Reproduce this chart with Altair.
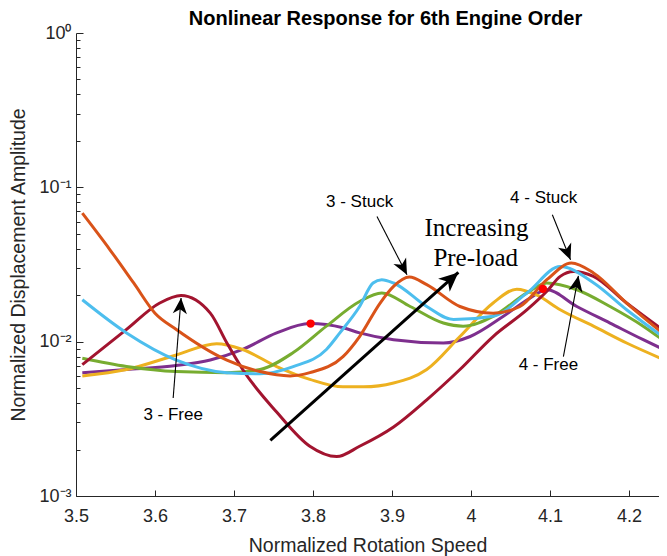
import math
import altair as alt
import pandas as pd

# ---------------- data ----------------
x_ticks = [3.5, 3.6, 3.7, 3.8, 3.9, 4.0, 4.1, 4.2]
y_major = [0.001, 0.01, 0.1, 1.0]
y_minor = [round(m * d, 6) for d in (0.001, 0.01, 0.1) for m in range(2, 10)]

purple_x = [3.508, 3.564, 3.627, 3.670, 3.711, 3.754, 3.796, 3.838, 3.859, 3.902,
            3.965, 3.999, 4.041, 4.075, 4.096, 4.134, 4.176, 4.218, 4.248]
purple_y = [0.0063, 0.0066, 0.0070, 0.0076, 0.0089, 0.0114, 0.0131, 0.0123, 0.0114, 0.0103,
            0.0098, 0.0108, 0.0146, 0.0192, 0.0217, 0.0169, 0.0132, 0.0103, 0.0087]

yellow_x = [3.508, 3.564, 3.627, 3.678, 3.711, 3.754, 3.796, 3.838, 3.864, 3.902,
            3.944, 3.986, 4.028, 4.058, 4.083, 4.113, 4.155, 4.197, 4.248]
yellow_y = [0.0060, 0.0066, 0.0082, 0.0097, 0.0089, 0.0069, 0.0057, 0.0051, 0.0051, 0.0054,
            0.0066, 0.0108, 0.0178, 0.0219, 0.0201, 0.0161, 0.0126, 0.0098, 0.0075]

green_x = [3.508, 3.564, 3.627, 3.691, 3.733, 3.775, 3.817, 3.859, 3.887, 3.923,
           3.965, 3.990, 4.028, 4.071, 4.096, 4.134, 4.176, 4.218, 4.248]
green_y = [0.0078, 0.0069, 0.0064, 0.0063, 0.0066, 0.0085, 0.0126, 0.0182, 0.0207, 0.0169,
           0.0132, 0.0126, 0.0146, 0.0207, 0.0240, 0.0217, 0.0169, 0.0126, 0.0098]

maroon_x = [3.508, 3.564, 3.606, 3.633, 3.670, 3.691, 3.711, 3.754, 3.796, 3.830, 3.859,
            3.902, 3.944, 3.986, 4.028, 4.071, 4.096, 4.113, 4.130, 4.155, 4.197, 4.248]
maroon_y = [0.0071, 0.0120, 0.0178, 0.0199, 0.0153, 0.0098, 0.0066, 0.0035, 0.0021, 0.0018, 0.0021,
            0.0028, 0.0042, 0.0066, 0.0108, 0.0161, 0.0212, 0.0265, 0.0285, 0.0265, 0.0178, 0.0114]

blue_x = [3.508, 3.564, 3.627, 3.691, 3.733, 3.775, 3.817, 3.834, 3.859, 3.876,
          3.887, 3.902, 3.944, 3.978, 4.028, 4.071, 4.113, 4.155, 4.197, 4.248]
blue_y = [0.0187, 0.0114, 0.0076, 0.0063, 0.0062, 0.0069, 0.0089, 0.0114, 0.0169, 0.0240,
          0.0252, 0.0240, 0.0169, 0.0139, 0.0146, 0.0207, 0.0307, 0.0241, 0.0161, 0.0103]

orange_x = [3.508, 3.543, 3.573, 3.600, 3.627, 3.691, 3.733, 3.771, 3.796, 3.838, 3.859, 3.885,
            3.902, 3.922, 3.944, 3.986, 4.028, 4.062, 4.096, 4.127, 4.155, 4.197, 4.248]
orange_y = [0.0680, 0.0394, 0.0240, 0.0153, 0.0120, 0.0076, 0.0064, 0.0060, 0.0063, 0.0080, 0.0108, 0.0178,
            0.0228, 0.0262, 0.0234, 0.0169, 0.0153, 0.0169, 0.0252, 0.0323, 0.0279, 0.0178, 0.0108]

series = [
    ("purple", "#7E2F8E", purple_x, purple_y),
    ("yellow", "#EDB120", yellow_x, yellow_y),
    ("green", "#77AC30", green_x, green_y),
    ("maroon", "#A2142F", maroon_x, maroon_y),
    ("blue", "#4DBEEE", blue_x, blue_y),
    ("orange", "#D95319", orange_x, orange_y),
]

dot_x = [3.797, 4.091]
dot_y = [0.0131, 0.0220]

label_text = ["3 - Free", "3 - Stuck", "4 - Stuck", "4 - Free"]
label_x = [3.623, 3.859, 4.092, 4.098]
label_y = [0.00310, 0.0751, 0.0794, 0.00652]

note_text = ["Increasing", "Pre-load"]
note_x = [4.007, 4.006]
note_y = [0.0481, 0.0307]

arrow_x_start = [3.746, 3.623, 3.881, 4.103, 4.117]
arrow_y_start = [0.00229, 0.00432, 0.0647, 0.0664, 0.0080]
arrow_x_tip = [3.984, 3.633, 3.919, 4.126, 4.136]
arrow_y_tip = [0.0281, 0.0192, 0.0271, 0.0339, 0.0267]
arrow_bold = [True, False, False, False, False]

# ---------------- styles ----------------
W, H = 583, 463
X_DOM = [3.5, 4.238]
Y_DOM = [0.001, 1.0]
SANS = "Liberation Sans"
SERIF = "Liberation Serif"
INK = "#262626"

xs = alt.Scale(domain=X_DOM, nice=False, zero=False)
ys = alt.Scale(type="log", domain=Y_DOM, nice=False)

main_x_axis = alt.Axis(orient="bottom", values=x_ticks, format=".1~f", labelFlush=False,
                       labelFont=SANS, labelFontSize=18, labelColor=INK, labelPadding=11,
                       ticks=False, tickSize=0, domainColor=INK, domainWidth=1, grid=False,
                       title="Normalized Rotation Speed", titleFont=SANS, titleFontSize=19.5,
                       titleFontWeight="normal", titleColor=INK, titlePadding=11)
main_y_axis = alt.Axis(orient="left", values=y_major,
                       labelExpr="datum.value >= 0.5 ? '10⁰' : datum.value >= 0.05 ? '10⁻¹' : datum.value >= 0.005 ? '10⁻²' : '10⁻³'",
                       labelFlush=False, labelOverlap=False,
                       labelFont=SANS, labelFontSize=18, labelColor=INK, labelPadding=5,
                       ticks=False, tickSize=0, domainColor=INK, domainWidth=1, grid=False,
                       title="Normalized Displacement Amplitude", titleFont=SANS, titleFontSize=19.5,
                       titleFontWeight="normal", titleColor=INK, titlePadding=10)
tick_x_axis = alt.Axis(orient="bottom", values=x_ticks, labels=False, domain=False, grid=False,
                       ticks=True, tickSize=6, tickColor=INK, tickWidth=1, offset=-6, title=None)
tick_y_axis = alt.Axis(orient="left", values=y_major, labels=False, domain=False, grid=False,
                       ticks=True, tickSize=7, tickColor=INK, tickWidth=1, offset=-7, title=None)
minor_y_axis = alt.Axis(orient="left", values=y_minor, labels=False, domain=False, grid=False,
                        ticks=True, tickSize=4, tickColor=INK, tickWidth=1, offset=-4, title=None)

layers = []
for i, (name, color, sx, sy) in enumerate(series):
    df = pd.DataFrame({"x": sx, "y": sy, "series": name})
    ax_x = main_x_axis if i == 0 else None
    ax_y = main_y_axis if i == 0 else None
    layers.append(
        alt.Chart(df).mark_line(color=color, strokeWidth=3, interpolate="monotone", clip=True)
        .encode(x=alt.X("x:Q", scale=xs, axis=ax_x), y=alt.Y("y:Q", scale=ys, axis=ax_y))
    )

# arrows
kx = W / (X_DOM[1] - X_DOM[0])
ky = H / (math.log10(Y_DOM[1]) - math.log10(Y_DOM[0]))
angles = []
for xa, ya, xb, yb in zip(arrow_x_start, arrow_y_start, arrow_x_tip, arrow_y_tip):
    dxp = (xb - xa) * kx
    dyp = -(math.log10(yb) - math.log10(ya)) * ky
    angles.append(math.degrees(math.atan2(dxp, -dyp)) % 360)

arrow_df = pd.DataFrame({
    "xs": arrow_x_start, "ys": arrow_y_start, "xt": arrow_x_tip, "yt": arrow_y_tip,
    "w": [3 if b else 1.1 for b in arrow_bold],
    "sz": [1500 if b else 1000 for b in arrow_bold],
    "ang": angles,
})
layers.append(
    alt.Chart(arrow_df).mark_rule(color="black")
    .encode(x=alt.X("xs:Q", scale=xs, axis=None), y=alt.Y("ys:Q", scale=ys, axis=None),
            x2="xt:Q", y2="yt:Q", strokeWidth=alt.StrokeWidth("w:Q", scale=None))
)
layers.append(
    alt.Chart(arrow_df).mark_point(shape="M0,0L-0.45,1L0,0.72L0.45,1Z", filled=True,
                                   color="black", opacity=1, strokeWidth=0)
    .encode(x=alt.X("xt:Q", scale=xs, axis=None), y=alt.Y("yt:Q", scale=ys, axis=None),
            angle=alt.Angle("ang:Q", scale=None), size=alt.Size("sz:Q", scale=None))
)

# red points (carry the inward major ticks)
dots_df = pd.DataFrame({"x": dot_x, "y": dot_y})
layers.append(
    alt.Chart(dots_df).mark_point(shape="circle", filled=True, color="#FF0000", opacity=1, size=70)
    .encode(x=alt.X("x:Q", scale=xs, axis=tick_x_axis), y=alt.Y("y:Q", scale=ys, axis=tick_y_axis))
)

# annotations (carry minor ticks)
lab_df = pd.DataFrame({"x": label_x, "y": label_y, "t": label_text})
layers.append(
    alt.Chart(lab_df).mark_text(font=SANS, fontSize=17, color="black", align="center", baseline="alphabetic")
    .encode(x=alt.X("x:Q", scale=xs, axis=None), y=alt.Y("y:Q", scale=ys, axis=minor_y_axis), text="t:N")
)
note_df = pd.DataFrame({"x": note_x, "y": note_y, "t": note_text})
layers.append(
    alt.Chart(note_df).mark_text(font=SERIF, fontSize=25, color="black", align="center", baseline="alphabetic")
    .encode(x=alt.X("x:Q", scale=xs, axis=None), y=alt.Y("y:Q", scale=ys, axis=None), text="t:N")
)

chart = (
    alt.layer(*layers)
    .resolve_axis(x="independent", y="independent")
    .properties(
        width=W, height=H,
        title=alt.TitleParams(text="Nonlinear Response for 6th Engine Order", font=SANS, fontSize=20,
                              fontWeight="bold", color="black", anchor="middle", offset=0, dx=18, dy=5),
        autosize=alt.AutoSizeParams(type="none"),
        padding={"left": 68, "top": 25, "right": 0, "bottom": 60},
    )
    .configure_view(stroke=None)
)

chart.save("out.html", embed_options={"renderer": "svg", "actions": False})
